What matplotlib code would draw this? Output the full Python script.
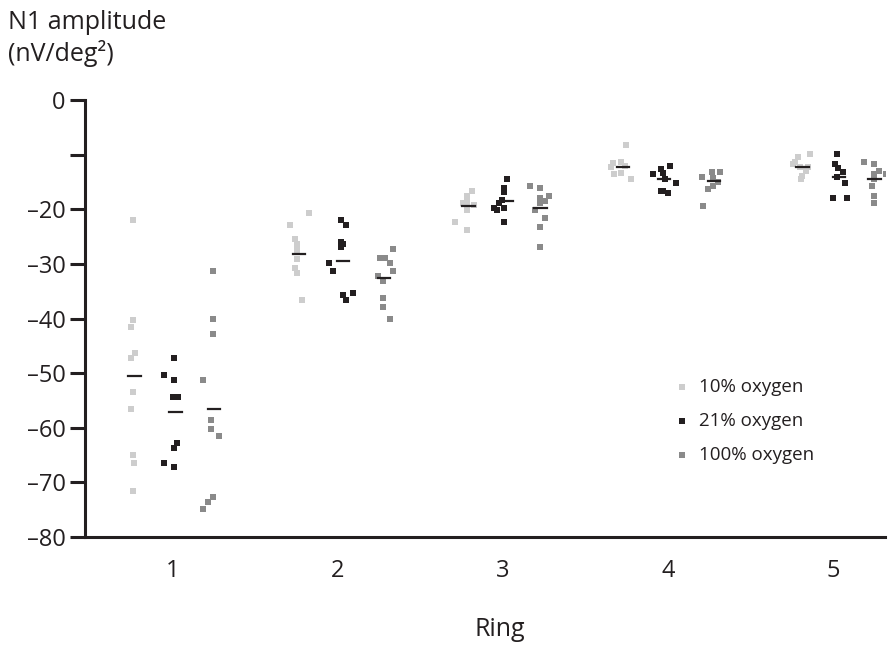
import numpy as np
import matplotlib
matplotlib.use('Agg')
import matplotlib.pyplot as plt

# 字体设置
plt.rcParams['font.family'] = ['Open Sans', 'DejaVu Sans']

# 数据：每个环（Ring）三个氧浓度组
rings = [1, 2, 3, 4, 5]
groups = ['10% oxygen', '21% oxygen', '100% oxygen']
colors = ['#cdcdcd', '#231f20', '#8a8a8a']
group_offset = [-0.24, 0.0, 0.24]

vals_10 = [
    [-22.0, -40.2, -41.5, -46.3, -47.2, -53.5, -56.6, -65.0, -66.5, -71.5],
    [-20.7, -22.9, -25.4, -26.4, -27.5, -29.1, -30.8, -31.7, -36.6],
    [-16.7, -17.6, -18.7, -18.9, -19.2, -20.1, -22.3, -23.8],
    [-8.2, -11.5, -11.4, -12.1, -12.3, -13.5, -13.4, -14.5],
    [-9.9, -10.4, -11.4, -11.8, -12.2, -12.2, -13.0, -13.9, -14.5],
]
jit_10 = [
    [0.0, 0.0, -0.012, 0.012, -0.012, 0.0, -0.012, 0.0, 0.006, 0.0],
    [0.067, -0.048, -0.018, -0.006, -0.006, -0.006, -0.018, -0.006, 0.024],
    [0.055, 0.024, 0.024, 0.0, 0.067, 0.024, -0.048, 0.024],
    [-0.012, -0.091, -0.042, -0.018, -0.103, -0.085, -0.042, 0.018],
    [0.103, 0.03, 0.012, 0.0, 0.042, 0.091, 0.079, 0.055, 0.048],
]

vals_21 = [
    [-47.2, -50.3, -51.3, -54.4, -54.4, -62.8, -63.7, -66.5, -67.2],
    [-22.0, -22.9, -26.0, -26.4, -26.9, -29.8, -31.3, -35.3, -35.7, -36.6],
    [-14.5, -16.1, -16.8, -18.3, -18.9, -19.8, -20.1, -19.8, -22.3],
    [-12.1, -12.6, -13.4, -13.5, -14.5, -15.2, -16.7, -16.7, -17.0],
    [-9.9, -11.8, -12.5, -13.2, -14.1, -15.2, -17.9, -17.9],
]
jit_21 = [
    [0.006, -0.055, 0.006, 0.0, 0.03, 0.024, 0.006, -0.055, 0.006],
    [0.018, 0.048, 0.018, 0.03, 0.018, -0.055, -0.03, 0.091, 0.03, 0.048],
    [0.024, 0.006, 0.006, -0.006, -0.024, -0.055, -0.036, 0.006, 0.006],
    [0.012, -0.042, -0.03, -0.091, -0.018, 0.048, -0.042, -0.03, 0.0],
    [0.024, 0.012, 0.03, 0.061, 0.024, 0.073, 0.0, 0.085],
]

vals_100 = [
    [-31.3, -40.1, -42.8, -51.3, -58.6, -60.2, -61.5, -72.7, -73.6, -74.9],
    [-27.3, -28.9, -28.9, -29.8, -31.3, -32.2, -33.1, -36.2, -37.9, -40.1],
    [-15.7, -16.1, -17.6, -17.9, -18.5, -18.9, -20.1, -21.6, -23.2, -26.9],
    [-13.2, -13.2, -14.1, -14.3, -15.0, -15.7, -16.3, -19.4],
    [-11.4, -11.8, -13.0, -13.5, -13.5, -14.5, -15.7, -17.6, -18.9],
]
jit_100 = [
    [0.0, 0.0, 0.0, -0.06, -0.012, -0.012, 0.042, 0.0, -0.03, -0.06],
    [0.091, 0.012, 0.042, 0.073, 0.091, 0.0, 0.03, 0.03, 0.03, 0.073],
    [-0.079, -0.018, 0.036, -0.018, 0.012, -0.018, -0.048, 0.012, -0.018, -0.018],
    [0.024, 0.073, -0.036, 0.03, 0.061, 0.03, 0.0, -0.03],
    [-0.055, 0.006, 0.036, 0.079, 0.006, 0.006, -0.006, 0.006, 0.006],
]

# 平均值横线
means = [
    [-50.5, -28.2, -19.4, -12.3, -12.2],
    [-57.1, -29.5, -18.5, -14.5, -14.1],
    [-56.6, -32.6, -19.8, -14.8, -14.5],
]
mean_shift = [
    [0.006, 0.003, 0.03, -0.033, 0.055],
    [0.015, 0.03, 0.024, -0.024, 0.036],
    [0.009, 0.039, -0.012, 0.039, 0.012],
]

all_vals = [vals_10, vals_21, vals_100]
all_jit = [jit_10, jit_21, jit_100]

fig = plt.figure(figsize=(8.9, 6.48), dpi=100)
ax = fig.add_axes([85 / 890, (648 - 537) / 648, 800 / 890, 437 / 648])

for g in range(3):
    for i, r in enumerate(rings):
        v = np.array(all_vals[g][i])
        x = r + group_offset[g] + np.array(all_jit[g][i])
        ax.scatter(x, v, marker='s', s=24, color=colors[g], linewidths=0,
                   zorder=2, label=groups[g] if i == 0 else None)
        xc = r + group_offset[g] + mean_shift[g][i]
        ax.plot([xc - 0.038, xc + 0.038], [means[g][i]] * 2, color='#231f20',
                lw=1.6, zorder=3)

ax.set_xlim(0.467, 5.315)
ax.set_ylim(-80, 0)

# 坐标轴样式
for s in ['top', 'right']:
    ax.spines[s].set_visible(False)
ax.spines['left'].set_linewidth(2.2)
ax.spines['bottom'].set_linewidth(2.2)
ax.spines['left'].set_color('#231f20')
ax.spines['bottom'].set_color('#231f20')

ax.set_yticks(np.arange(0, -81, -10))
ax.set_yticklabels(['0', '', '–20', '–30', '–40', '–50', '–60', '–70', '–80'],
                   fontsize=17, color='#231f20')
ax.tick_params(axis='y', length=11, width=2.2, color='#231f20', pad=3)
ax.set_xticks(rings)
ax.set_xticklabels([str(r) for r in rings], fontsize=17, color='#231f20')
ax.tick_params(axis='x', length=0, pad=16)

fig.text(8 / 890, 1 - 10 / 648, 'N1 amplitude\n(nV/deg²)', fontsize=18,
         color='#231f20', va='top', ha='left', linespacing=1.25)
fig.text(500 / 890, 1 - 630 / 648, 'Ring', fontsize=18, color='#231f20',
         ha='center', va='center')

leg = ax.legend(loc='upper left', bbox_to_anchor=(654 / 890, 1 - 361 / 648),
                bbox_transform=fig.transFigure, frameon=False, fontsize=13.5,
                handletextpad=0.3, labelspacing=0.85, markerscale=1.0,
                handlelength=1.2)
for t in leg.get_texts():
    t.set_color('#231f20')

fig.savefig('out.png', dpi=100)
